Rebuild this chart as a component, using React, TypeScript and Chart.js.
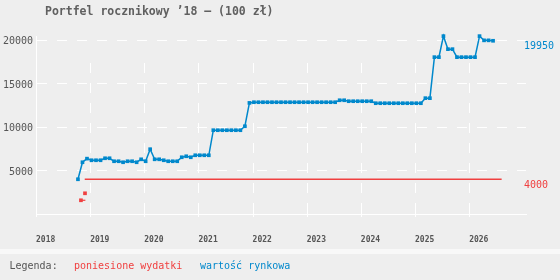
import React, { useEffect, useRef } from 'react';
import { Chart, registerables } from 'chart.js';

Chart.register(...registerables);

const TITLE = 'Portfel rocznikowy ’18 – (100 zł)';
const LEGEND_LABEL = 'Legenda:';
const SPENT_LABEL = 'poniesione wydatki';
const VALUE_LABEL = 'wartość rynkowa';

const BLUE = '#0088cc';
const RED = '#f04040';
const TEXT = '#555555';
const BG = '#eeeeee';
const MONO = '"DejaVu Sans Mono", monospace';

const xTickYears = [2018, 2019, 2020, 2021, 2022, 2023, 2024, 2025, 2026];
const yTickValues = [5000, 10000, 15000, 20000];

// market value, one point per month, starting October 2018 (month index 9)
const marketStartYear = 2018;
const marketStartMonthIndex = 9;
const marketDayFraction = 0.3;
const marketValues = [
  4000, 5960, 6375, 6190, 6190, 6190, 6420, 6420, 6075, 6075,
  5960, 6075, 6075, 5960, 6300, 6075, 7460, 6300, 6300, 6190,
  6075, 6075, 6075, 6535, 6650, 6535, 6765, 6765, 6765, 6765,
  9650, 9650, 9650, 9650, 9650, 9650, 9650, 10110, 12795,
  12875, 12875, 12875, 12875, 12875, 12875, 12875, 12875, 12875, 12875,
  12875, 12875, 12875, 12875, 12875, 12875, 12875, 12875, 12875,
  13100, 13100,
  12990, 12990, 12990, 12990, 12990, 12990,
  12760, 12760, 12760, 12760, 12760, 12760, 12760, 12760, 12760, 12760, 12760,
  13340, 13340,
  18065, 18065, 20485, 18985, 18985, 18065, 18065, 18065, 18065, 18065,
  20485, 20000, 20000, 19950,
];

// spent money
const spentEarlyDates = [2018.83, 2018.912];
const spentEarlyValues = [1580, 1580];
const spentPointDates = [2018.905];
const spentPointValues = [2385];
const spentLevelDates = [2018.9, 2026.6];
const spentLevelValues = [4000, 4000];

const decorPlugin = {
  id: 'decor',
  beforeDraw(chart: any) {
    const { ctx, width, height } = chart;
    ctx.save();
    ctx.fillStyle = BG;
    ctx.fillRect(0, 0, width, height);
    ctx.fillStyle = '#f8f8f8';
    ctx.fillRect(0, 249, width, 5);
    ctx.restore();
  },
  beforeDatasetsDraw(chart: any) {
    const { ctx, chartArea } = chart;
    const xs = chart.scales.x;
    ctx.save();
    ctx.strokeStyle = '#ffffff';
    ctx.lineWidth = 1;
    xTickYears.forEach((yr) => {
      const px = Math.round(xs.getPixelForValue(yr)) + 0.5;
      ctx.setLineDash([10, 10]);
      ctx.beginPath();
      ctx.moveTo(px, chartArea.top + 27);
      ctx.lineTo(px, chartArea.bottom);
      ctx.stroke();
      ctx.setLineDash([]);
      ctx.beginPath();
      ctx.moveTo(px, chartArea.bottom - 6);
      ctx.lineTo(px, chartArea.bottom + 3);
      ctx.stroke();
    });
    // left axis line
    const lx = Math.round(chartArea.left) + 0.5;
    ctx.beginPath();
    ctx.moveTo(lx, chartArea.top);
    ctx.lineTo(lx, chartArea.bottom + 3);
    ctx.stroke();
    ctx.restore();
  },
  afterDraw(chart: any) {
    const { ctx, chartArea } = chart;
    const ys = chart.scales.y;
    ctx.save();
    ctx.textBaseline = 'middle';
    ctx.textAlign = 'left';
    ctx.font = `bold 11.5px ${MONO}`;
    ctx.fillStyle = '#606060';
    ctx.fillText(TITLE, 45, 12.5);

    ctx.font = `10px ${MONO}`;
    ctx.fillStyle = TEXT;
    ctx.fillText(LEGEND_LABEL, 9.5, 266.5);
    ctx.fillStyle = RED;
    ctx.fillText(SPENT_LABEL, 74, 266.5);
    ctx.fillStyle = BLUE;
    ctx.fillText(VALUE_LABEL, 200, 266.5);

    const lastMarket = marketValues[marketValues.length - 1];
    const lastSpent = spentLevelValues[spentLevelValues.length - 1];
    ctx.fillStyle = BLUE;
    ctx.fillText(String(lastMarket), chartArea.right - 2, ys.getPixelForValue(lastMarket) + 6);
    ctx.fillStyle = RED;
    ctx.fillText(String(lastSpent), chartArea.right - 2, ys.getPixelForValue(lastSpent) + 6.5);
    ctx.restore();
  },
};

export default function App() {
  const ref = useRef<HTMLCanvasElement | null>(null);

  useEffect(() => {
    document.body.style.margin = '0';
    document.body.style.background = BG;
    const canvas = ref.current;
    if (!canvas) return;

    const marketData = marketValues.map((v, i) => ({
      x: marketStartYear + (marketStartMonthIndex + i + marketDayFraction) / 12,
      y: v,
    }));
    const spentEarly = spentEarlyDates.map((d, i) => ({ x: d, y: spentEarlyValues[i] }));
    const spentPoint = spentPointDates.map((d, i) => ({ x: d, y: spentPointValues[i] }));
    const spentLevel = spentLevelDates.map((d, i) => ({ x: d, y: spentLevelValues[i] }));

    const chart = new Chart(canvas, {
      type: 'line',
      data: {
        datasets: [
          {
            label: SPENT_LABEL,
            data: spentLevel,
            borderColor: RED,
            borderWidth: 1.4,
            pointRadius: 0,
            clip: false as any,
          },
          {
            label: SPENT_LABEL,
            data: spentEarly,
            borderColor: RED,
            borderWidth: 1.2,
            pointStyle: 'rect',
            pointRadius: [2.6, 0],
            pointBackgroundColor: RED,
            pointBorderWidth: 0,
            clip: false as any,
          },
          {
            label: SPENT_LABEL,
            data: spentPoint,
            showLine: false,
            pointStyle: 'rect',
            pointRadius: 2.6,
            pointBackgroundColor: RED,
            pointBorderWidth: 0,
            clip: false as any,
          },
          {
            label: VALUE_LABEL,
            data: marketData,
            borderColor: BLUE,
            borderWidth: 1.5,
            pointStyle: 'rect',
            pointRadius: 2.6,
            pointBackgroundColor: BLUE,
            pointBorderWidth: 0,
            tension: 0,
            clip: false as any,
          },
        ],
      },
      options: {
        animation: false,
        responsive: false,
        maintainAspectRatio: false,
        layout: { padding: { top: 36, right: 34, bottom: 36, left: 0 } },
        plugins: {
          legend: { display: false },
          title: { display: false },
          tooltip: { enabled: false },
        },
        scales: {
          x: {
            type: 'linear',
            min: 2018,
            max: 2027.05,
            afterFit: (s: any) => { s.height = 30; },
            afterBuildTicks: (s: any) => { s.ticks = xTickYears.map((v) => ({ value: v })); },
            grid: { display: false, drawTicks: false },
            border: { display: true, color: '#ffffff', width: 1 },
            ticks: {
              align: 'start',
              padding: 21,
              autoSkip: false,
              maxRotation: 0,
              color: TEXT,
              font: { family: MONO, size: 8, weight: 'bold' },
              callback: (v: any) => String(v),
            },
          },
          y: {
            type: 'linear',
            min: 0,
            max: 20500,
            afterFit: (s: any) => { s.width = 36; },
            afterBuildTicks: (s: any) => { s.ticks = yTickValues.map((v) => ({ value: v })); },
            grid: { color: '#ffffff', lineWidth: 1, drawTicks: false },
            border: { display: true, color: '#ffffff', width: 1, dash: [10, 10] },
            ticks: {
              padding: 3,
              labelOffset: 1.5,
              color: TEXT,
              font: { family: MONO, size: 10 },
              callback: (v: any) => String(v),
            },
          },
        },
      } as any,
      plugins: [decorPlugin],
    });

    return () => chart.destroy();
  }, []);

  return <canvas ref={ref} width={560} height={280} style={{ display: 'block' }} />;
}
